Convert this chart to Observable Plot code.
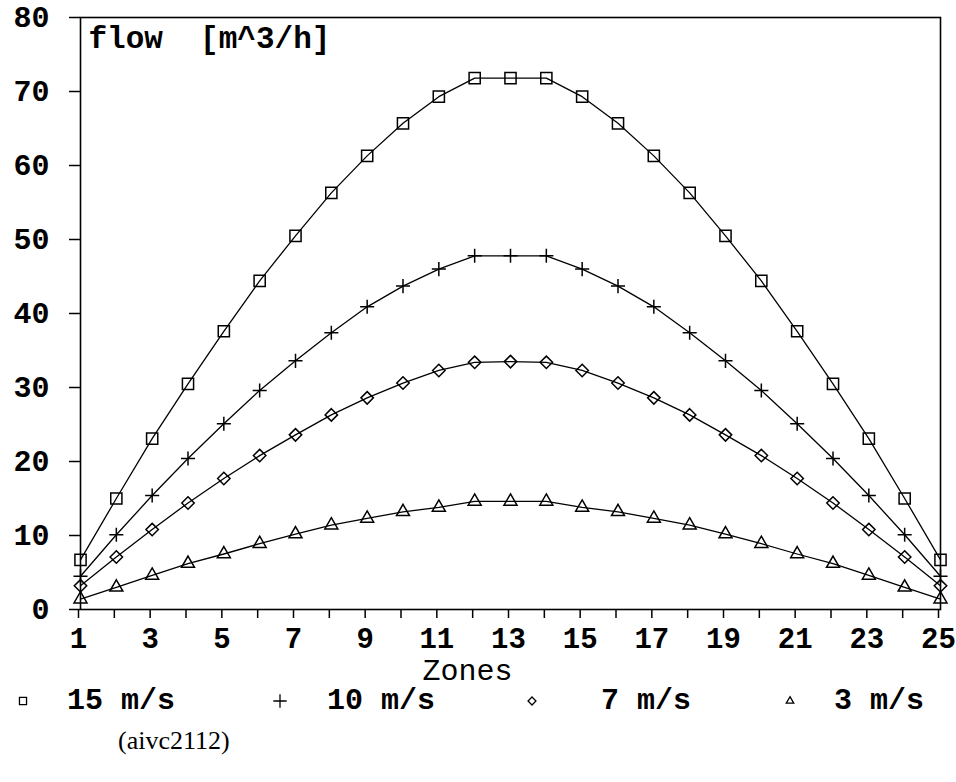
<!DOCTYPE html>
<html>
<head>
<meta charset="utf-8">
<script src="https://cdn.jsdelivr.net/npm/d3@7"></script>
<script src="https://cdn.jsdelivr.net/npm/@observablehq/plot@0.6"></script>
<style>
  html, body { margin: 0; padding: 0; background: #fff; }
  #wrap { position: relative; width: 956px; height: 782px; overflow: hidden; }
  #legend { position: absolute; left: 0; top: 681px; width: 956px; height: 40px; }
  .item-text { position: absolute; top: 0; height: 40px; line-height: 40px;
    font-family: "Liberation Mono", "Courier New", monospace; font-weight: bold; font-size: 30px; white-space: pre; color: #000; }
  .item-mark { position: absolute; top: 0; }
  #caption { position: absolute; left: 118px; top: 726px; font-family: "Liberation Serif", "Times New Roman", serif; font-size: 26px; color: #000; }
</style>
</head>
<body>
<div id="wrap">
  <div id="chart"></div>
  <div id="legend"></div>
  <div id="caption">(aivc2112)</div>
</div>
<script>
const zones = [1,2,3,4,5,6,7,8,9,10,11,12,13,14,15,16,17,18,19,20,21,22,23,24,25];
const xTickLabels = [1,3,5,7,9,11,13,15,17,19,21,23,25];
const yTicks = [0,10,20,30,40,50,60,70,80];
const seriesNames = ["15 m/s", "10 m/s", "7 m/s", "3 m/s"];
const s15 = [6.7, 15.0, 23.1, 30.5, 37.6, 44.4, 50.5, 56.3, 61.3, 65.7, 69.3, 71.8, 71.8, 71.8, 69.3, 65.7, 61.3, 56.3, 50.5, 44.4, 37.6, 30.5, 23.1, 15.0, 6.7];
const s10 = [4.5, 10.1, 15.4, 20.4, 25.1, 29.6, 33.6, 37.4, 40.9, 43.7, 46.0, 47.8, 47.8, 47.8, 46.0, 43.7, 40.9, 37.4, 33.6, 29.6, 25.1, 20.4, 15.4, 10.1, 4.5];
const s7  = [3.2, 7.1, 10.8, 14.4, 17.7, 20.8, 23.6, 26.3, 28.6, 30.6, 32.3, 33.4, 33.5, 33.4, 32.3, 30.6, 28.6, 26.3, 23.6, 20.8, 17.7, 14.4, 10.8, 7.1, 3.2];
const s3  = [1.4, 3.0, 4.6, 6.2, 7.5, 8.9, 10.2, 11.4, 12.3, 13.2, 13.8, 14.6, 14.6, 14.6, 13.8, 13.2, 12.3, 11.4, 10.2, 8.9, 7.5, 6.2, 4.6, 3.0, 1.4];

const seriesValues = [s15, s10, s7, s3];
const symbols = ["square", "plus", "diamond2", "triangle2"];
const radii = [6.3, 4.6, 5.6, 6.2];

const tables = seriesValues.map((vals, i) => zones.map((z, j) => ({zone: z, flow: vals[j], series: seriesNames[i]})));

const mono = "Liberation Mono, Courier New, monospace";

const marks = [
  Plot.frame({stroke: "#000", strokeWidth: 1.6}),
  Plot.axisY({ticks: yTicks, tickSize: 11, tickPadding: 20, fontSize: 30, fontWeight: "bold", fontFamily: mono, label: null, stroke: "#000", strokeWidth: 1.5}),
  Plot.axisX({ticks: zones, tickSize: 9, tickPadding: 9, dx: -2, fontSize: 29, fontWeight: "bold", fontFamily: mono, label: null, stroke: "#000", strokeWidth: 1.5,
    tickFormat: d => xTickLabels.includes(d) ? String(d) : ""}),
  Plot.text(["flow\u00a0\u00a0[m^3/h]"], {frameAnchor: "top-left", dx: 8, dy: 8, lineAnchor: "top", textAnchor: "start",
    fontSize: 31, fontWeight: "bold", fontFamily: mono, fill: "#000"}),
  Plot.text(["Zones"], {frameAnchor: "bottom", dx: -43, dy: 61, lineAnchor: "middle", fontSize: 30, fontFamily: mono, fill: "#000"})
];
tables.forEach((t, i) => {
  marks.push(Plot.line(t, {x: "zone", y: "flow", stroke: "#000", strokeWidth: 1.3}));
  marks.push(Plot.dot(t, {x: "zone", y: "flow", symbol: () => symbols[i], r: radii[i], stroke: "#000", strokeWidth: 1.5, fill: "none"}));
});

const chart = Plot.plot({
  width: 956,
  height: 680,
  marginLeft: 80,
  marginRight: 16,
  marginTop: 17,
  marginBottom: 71,
  x: {domain: [1, 25], axis: null},
  y: {domain: [0, 80], axis: null},
  symbol: {type: "identity"},
  style: {background: "#fff", color: "#000", overflow: "visible"},
  marks
});
document.getElementById("chart").appendChild(chart);

// Legend
const legend = d3.select("#legend");
const markX = [23, 280, 532, 790];
const textX = [67, 327, 601, 834];
const legSymbols = [d3.symbolSquare, d3.symbolPlus, d3.symbolDiamond2, d3.symbolTriangle2];
const legSizes = [50, 60, 40, 40];
seriesNames.forEach((name, i) => {
  const svg = legend.append("svg").attr("class", "item-mark")
    .attr("width", 20).attr("height", 40)
    .style("left", (markX[i] - 10) + "px");
  svg.append("path")
    .attr("d", d3.symbol(legSymbols[i], legSizes[i])())
    .attr("transform", "translate(10,20)")
    .attr("fill", "none").attr("stroke", "#000").attr("stroke-width", 1.3);
  legend.append("div").attr("class", "item-text").style("left", textX[i] + "px").text(name);
});
</script>
</body>
</html>
